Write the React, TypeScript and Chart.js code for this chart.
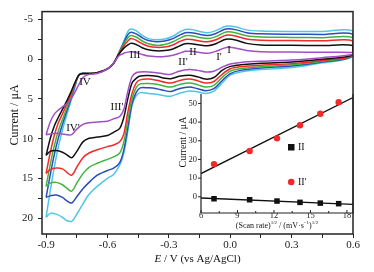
import { useEffect, useRef } from "react";
import { Chart, registerables } from "chart.js";

Chart.register(...registerables);

const FONT = '"Liberation Serif", "Times New Roman", serif';

// ---- main CV data -------------------------------------------------------
// anodic sweep potentials (V vs Ag/AgCl), left -> right
const E_ANODIC = [-0.90, -0.88, -0.86, -0.84, -0.82, -0.80, -0.78, -0.76, -0.74, -0.72, -0.69, -0.65, -0.60, -0.57, -0.545, -0.52, -0.50, -0.485, -0.46, -0.43, -0.40, -0.36, -0.32, -0.28, -0.25, -0.22, -0.19, -0.15, -0.11, -0.07, -0.03, -0.01, 0.03, 0.08, 0.15, 0.30, 0.45, 0.60];
// cathodic sweep potentials, right -> left
const E_CATHODIC = [0.60, 0.45, 0.30, 0.15, 0.05, 0.00, -0.04, -0.08, -0.12, -0.16, -0.20, -0.25, -0.29, -0.32, -0.36, -0.40, -0.44, -0.46, -0.48, -0.50, -0.52, -0.54, -0.57, -0.60, -0.65, -0.69, -0.72, -0.75, -0.775, -0.80, -0.82, -0.85, -0.88, -0.90];

// currents (µA) on the anodic sweep, one per scan rate
const ANODIC_PURPLE = [9.5, 7.9, 6.9, 6.4, 6.0, 5.6, 5.1, 4.2, 3.2, 2.3, 1.9, 1.8, 1.2, 0.5, -0.4, -0.75, -0.9, -0.95, -0.85, -0.6, -0.4, -0.33, -0.35, -0.5, -0.75, -1.0, -1.0, -0.85, -0.75, -1.0, -1.4, -1.5, -1.4, -1.1, -0.95, -0.9, -0.88, -0.86];
const ANODIC_BLACK = [12.1, 10.0, 8.4, 7.3, 6.3, 5.3, 4.2, 3.0, 2.0, 1.8, 1.8, 1.7, 1.2, 0.5, -0.6, -1.4, -1.8, -2.0, -1.85, -1.45, -1.2, -1.06, -1.1, -1.3, -1.65, -1.95, -1.95, -1.8, -1.7, -1.95, -2.45, -2.55, -2.4, -2.0, -1.8, -1.75, -1.72, -1.7];
const ANODIC_RED = [14.4, 11.8, 9.6, 8.0, 6.9, 5.7, 4.5, 3.1, 2.0, 1.8, 1.8, 1.7, 1.2, 0.5, -0.65, -1.7, -2.3, -2.6, -2.4, -1.95, -1.65, -1.5, -1.55, -1.8, -2.2, -2.5, -2.5, -2.3, -2.2, -2.45, -2.95, -3.05, -2.9, -2.55, -2.4, -2.35, -2.32, -2.3];
const ANODIC_GREEN = [16.0, 13.3, 10.9, 9.0, 7.6, 6.2, 4.8, 3.2, 2.0, 1.8, 1.8, 1.7, 1.2, 0.5, -0.7, -1.9, -2.7, -3.0, -2.8, -2.3, -1.95, -1.75, -1.85, -2.2, -2.6, -2.95, -2.95, -2.75, -2.6, -2.85, -3.35, -3.45, -3.3, -2.95, -2.8, -2.75, -2.72, -2.7];
const ANODIC_BLUE = [17.4, 14.6, 12.0, 9.9, 8.2, 6.6, 5.1, 3.4, 2.0, 1.8, 1.8, 1.7, 1.2, 0.5, -0.75, -2.1, -3.1, -3.4, -3.2, -2.7, -2.35, -2.2, -2.3, -2.6, -3.0, -3.35, -3.35, -3.15, -3.0, -3.25, -3.75, -3.85, -3.7, -3.35, -3.2, -3.15, -3.12, -3.1];
const ANODIC_CYAN = [19.9, 16.6, 13.6, 11.0, 8.9, 7.1, 5.4, 3.6, 1.9, 1.7, 1.8, 1.7, 1.2, 0.5, -0.8, -2.3, -3.5, -3.8, -3.6, -3.0, -2.6, -2.45, -2.55, -2.9, -3.4, -3.75, -3.75, -3.5, -3.35, -3.6, -4.1, -4.2, -4.05, -3.7, -3.55, -3.5, -3.5, -3.5];

// currents (µA) on the cathodic sweep
const CATHODIC_PURPLE = [-0.6, -0.2, 0.1, 0.25, 0.4, 0.6, 1.0, 1.5, 1.6, 1.4, 1.3, 1.5, 1.9, 1.85, 1.7, 1.6, 1.6, 1.7, 2.2, 4.0, 6.3, 7.2, 7.5, 7.8, 7.9, 8.0, 8.2, 8.8, 9.5, 9.5, 9.4, 9.3, 9.4, 9.5];
const CATHODIC_BLACK = [-0.55, 0.0, 0.35, 0.5, 0.7, 0.9, 1.4, 2.3, 2.5, 2.2, 2.0, 2.15, 2.45, 2.4, 2.15, 2.05, 2.1, 2.4, 3.0, 4.9, 7.3, 8.7, 9.2, 9.6, 9.8, 9.95, 10.4, 11.6, 12.4, 12.0, 11.7, 11.5, 11.6, 12.1];
const CATHODIC_RED = [-0.5, 0.15, 0.55, 0.75, 0.95, 1.2, 1.9, 2.8, 3.0, 2.7, 2.5, 2.7, 3.0, 2.9, 2.65, 2.5, 2.6, 3.0, 4.3, 6.6, 9.4, 10.4, 10.8, 11.0, 11.4, 11.8, 12.4, 13.6, 14.6, 14.2, 13.8, 13.7, 13.9, 14.4];
const CATHODIC_GREEN = [-0.5, 0.25, 0.7, 0.95, 1.2, 1.5, 2.3, 3.3, 3.5, 3.2, 3.0, 3.2, 3.5, 3.4, 3.15, 3.05, 3.1, 3.6, 5.0, 7.6, 10.4, 11.8, 12.3, 12.6, 13.1, 13.6, 14.4, 15.6, 16.6, 16.2, 15.8, 15.5, 15.6, 16.0];
const CATHODIC_BLUE = [-0.45, 0.35, 0.85, 1.1, 1.4, 1.8, 2.7, 3.7, 3.95, 3.7, 3.5, 3.7, 4.05, 3.95, 3.7, 3.6, 3.6, 4.2, 5.6, 8.5, 11.4, 13.0, 13.7, 14.0, 14.6, 15.5, 16.3, 17.3, 18.1, 17.8, 17.4, 17.1, 17.2, 17.4];
const CATHODIC_CYAN = [-0.4, 0.45, 1.05, 1.3, 1.6, 2.0, 3.0, 4.0, 4.3, 4.1, 4.0, 4.3, 4.65, 4.6, 4.4, 4.3, 4.2, 4.6, 5.8, 9.0, 11.8, 13.3, 14.5, 15.0, 16.0, 17.0, 18.2, 19.5, 20.4, 20.3, 19.9, 19.5, 19.4, 19.9];

const SERIES_COLORS = ["#a24fc6", "#111111", "#f42a2a", "#3fb43f", "#2a4cbc", "#4fc6e4"];
const ANODIC = [ANODIC_PURPLE, ANODIC_BLACK, ANODIC_RED, ANODIC_GREEN, ANODIC_BLUE, ANODIC_CYAN];
const CATHODIC = [CATHODIC_PURPLE, CATHODIC_BLACK, CATHODIC_RED, CATHODIC_GREEN, CATHODIC_BLUE, CATHODIC_CYAN];

const X_TICKS = [-0.9, -0.6, -0.3, 0.0, 0.3, 0.6];
const X_MINOR = [-0.75, -0.45, -0.15, 0.15, 0.45];
const Y_TICKS = [-5, 0, 5, 10, 15, 20];
const Y_MINOR = [-2.5, 2.5, 7.5, 12.5, 17.5];

const PEAK_LABELS = ["IV", "IV'", "III", "III'", "II", "II'", "I", "I'"];
const PEAK_LABEL_X = [85, 73, 135, 117, 193, 183, 229, 219];
const PEAK_LABEL_Y = [82, 128, 55, 107, 52.5, 62.5, 50, 57.5];

// ---- inset data ---------------------------------------------------------
const SQRT_SCAN_RATE = [7.07, 10.0, 12.25, 14.14, 15.81, 17.32];
const PEAK_II = [-1.06, -1.6, -2.3, -3.0, -3.4, -3.7];
const PEAK_II_PRIME = [17.5, 24.5, 31.3, 38.3, 44.5, 50.7];
const INSET_X_TICKS = [6, 9, 12, 15, 18];
const INSET_X_MINOR = [7.5, 10.5, 13.5, 16.5];
const INSET_Y_TICKS = [0, 10, 20, 30, 40, 50];
const INSET_X_MIN = 6;
const INSET_X_MAX = 18.5;

function loop(up: number[], down: number[]) {
  const pts = up.map((y, i) => ({ x: E_ANODIC[i], y }));
  down.forEach((y, i) => pts.push({ x: E_CATHODIC[i], y }));
  return pts;
}

function linFit(xs: number[], ys: number[]) {
  const n = xs.length;
  const mx = xs.reduce((a, b) => a + b, 0) / n;
  const my = ys.reduce((a, b) => a + b, 0) / n;
  let sxy = 0;
  let sxx = 0;
  for (let i = 0; i < n; i++) {
    sxy += (xs[i] - mx) * (ys[i] - my);
    sxx += (xs[i] - mx) * (xs[i] - mx);
  }
  const b = sxy / sxx;
  const a = my - b * mx;
  return [INSET_X_MIN, INSET_X_MAX].map((x) => ({ x, y: a + b * x }));
}

const isIn = (arr: number[], v: number) => arr.some((t) => Math.abs(t - v) < 1e-6);

const mainDecor = {
  id: "mainDecor",
  afterDraw(chart: any) {
    const { ctx, chartArea: a } = chart;
    ctx.save();
    ctx.strokeStyle = "#222";
    ctx.lineWidth = 1.5;
    ctx.strokeRect(a.left, a.top, a.right - a.left, a.bottom - a.top);

    ctx.fillStyle = "#111";
    ctx.textAlign = "center";
    ctx.textBaseline = "middle";
    ctx.font = `11px ${FONT}`;
    PEAK_LABELS.forEach((t, i) => ctx.fillText(t, PEAK_LABEL_X[i], PEAK_LABEL_Y[i]));

    // x title with italic E
    const cx = (a.left + a.right) / 2;
    ctx.font = `italic 11px ${FONT}`;
    const w1 = ctx.measureText("E").width;
    ctx.font = `11px ${FONT}`;
    const rest = " / V (vs Ag/AgCl)";
    const w2 = ctx.measureText(rest).width;
    ctx.textAlign = "left";
    const x0 = cx - (w1 + w2) / 2;
    ctx.font = `italic 11px ${FONT}`;
    ctx.fillText("E", x0, 259);
    ctx.font = `11px ${FONT}`;
    ctx.fillText(rest, x0 + w1, 259);

    // y title
    ctx.translate(15, 115);
    ctx.rotate(-Math.PI / 2);
    ctx.textAlign = "center";
    ctx.font = `12px ${FONT}`;
    ctx.fillText("Current / μA", 0, 0);
    ctx.restore();
  },
};

const insetDecor = {
  id: "insetDecor",
  afterDraw(chart: any) {
    const { ctx, chartArea: a, scales } = chart;
    ctx.save();
    ctx.strokeStyle = "#222";
    ctx.lineWidth = 1.2;
    ctx.beginPath();
    ctx.moveTo(a.left, a.top);
    ctx.lineTo(a.left, a.bottom);
    ctx.lineTo(a.right, a.bottom);
    ctx.lineTo(a.right, a.top);
    ctx.stroke();

    ctx.lineWidth = 1;
    ctx.beginPath();
    INSET_X_TICKS.forEach((v) => {
      const px = scales.x.getPixelForValue(v);
      ctx.moveTo(px, a.bottom);
      ctx.lineTo(px, a.bottom - 3);
    });
    INSET_X_MINOR.forEach((v) => {
      const px = scales.x.getPixelForValue(v);
      ctx.moveTo(px, a.bottom);
      ctx.lineTo(px, a.bottom - 2);
    });
    INSET_Y_TICKS.forEach((v) => {
      const py = scales.y.getPixelForValue(v);
      ctx.moveTo(a.left - 3, py);
      ctx.lineTo(a.left, py);
    });
    ctx.stroke();

    // legend
    ctx.fillStyle = "#111";
    ctx.fillRect(138, 59, 6.5, 6.5);
    ctx.fillStyle = "#f42a2a";
    ctx.beginPath();
    ctx.arc(141.2, 97, 3.3, 0, Math.PI * 2);
    ctx.fill();
    ctx.fillStyle = "#111";
    ctx.font = `10px ${FONT}`;
    ctx.textAlign = "left";
    ctx.textBaseline = "middle";
    ctx.fillText("II", 148, 62.5);
    ctx.fillText("II'", 148, 97);

    // x title with superscripts
    const segs: [string, boolean][] = [
      ["(Scan rate)", false],
      ["1/2", true],
      [" / (mV·s", false],
      ["−1", true],
      [")", false],
      ["1/2", true],
    ];
    const norm = `8px ${FONT}`;
    const sup = `5px ${FONT}`;
    let total = 0;
    segs.forEach(([t, s]) => {
      ctx.font = s ? sup : norm;
      total += ctx.measureText(t).width;
    });
    let x = (a.left + a.right) / 2 - total / 2;
    const yb = 142.5;
    ctx.textBaseline = "alphabetic";
    segs.forEach(([t, s]) => {
      ctx.font = s ? sup : norm;
      ctx.fillText(t, x, s ? yb - 3.5 : yb);
      x += ctx.measureText(t).width;
    });

    // y title
    ctx.translate(33, 57);
    ctx.rotate(-Math.PI / 2);
    ctx.textAlign = "center";
    ctx.textBaseline = "middle";
    ctx.font = `10px ${FONT}`;
    ctx.fillText("Current / μA", 0, 0);
    ctx.restore();
  },
};

export default function App() {
  const mainRef = useRef<HTMLCanvasElement>(null);
  const insetRef = useRef<HTMLCanvasElement>(null);

  useEffect(() => {
    const main = new Chart(mainRef.current as HTMLCanvasElement, {
      type: "line",
      data: {
        datasets: ANODIC.map((up, i) => ({
          data: loop(up, CATHODIC[i]),
          borderColor: SERIES_COLORS[i],
          backgroundColor: SERIES_COLORS[i],
          borderWidth: 1.5,
          pointRadius: 0,
          tension: 0.3,
          fill: false,
        })),
      },
      options: {
        responsive: false,
        animation: false,
        devicePixelRatio: 1,
        events: [],
        parsing: false as any,
        layout: { padding: { left: 0, top: 7, right: 21, bottom: 0 } },
        plugins: { legend: { display: false }, tooltip: { enabled: false } },
        scales: {
          x: {
            type: "linear",
            min: -0.92,
            max: 0.6,
            afterBuildTicks: (s: any) => {
              s.ticks = [...X_TICKS, ...X_MINOR].sort((p, q) => p - q).map((v) => ({ value: v }));
            },
            afterFit: (s: any) => {
              s.height = 38;
            },
            grid: { display: true, drawOnChartArea: false, drawTicks: true, tickLength: 4, color: "#222", tickColor: "#222" },
            border: { display: false },
            ticks: {
              autoSkip: false,
              maxRotation: 0,
              padding: 1.5,
              color: "#222",
              font: { family: FONT, size: 11, lineHeight: 1 },
              callback: (v: any) => (isIn(X_TICKS, Number(v)) ? Number(v).toFixed(1) : ""),
            },
          },
          y: {
            type: "linear",
            reverse: true,
            min: -6,
            max: 22,
            afterBuildTicks: (s: any) => {
              s.ticks = [...Y_TICKS, ...Y_MINOR].sort((p, q) => p - q).map((v) => ({ value: v }));
            },
            afterFit: (s: any) => {
              s.width = 42;
            },
            grid: { display: true, drawOnChartArea: false, drawTicks: true, tickLength: 4, color: "#222", tickColor: "#222" },
            border: { display: false },
            ticks: {
              autoSkip: false,
              padding: 5,
              color: "#222",
              font: { family: FONT, size: 11 },
              callback: (v: any) => (isIn(Y_TICKS, Number(v)) ? String(Number(v)) : ""),
            },
          },
        },
      },
      plugins: [mainDecor],
    } as any);

    const inset = new Chart(insetRef.current as HTMLCanvasElement, {
      type: "scatter",
      data: {
        datasets: [
          {
            data: SQRT_SCAN_RATE.map((x, i) => ({ x, y: PEAK_II[i] })),
            pointStyle: "rect",
            pointRadius: 3.9,
            backgroundColor: "#111",
            borderColor: "#111",
            borderWidth: 0,
            showLine: false,
          },
          {
            data: SQRT_SCAN_RATE.map((x, i) => ({ x, y: PEAK_II_PRIME[i] })),
            pointStyle: "circle",
            pointRadius: 3.2,
            backgroundColor: "#f42a2a",
            borderColor: "#f42a2a",
            borderWidth: 0,
            showLine: false,
          },
          {
            data: linFit(SQRT_SCAN_RATE, PEAK_II),
            showLine: true,
            borderColor: "#111",
            borderWidth: 1.3,
            pointRadius: 0,
          },
          {
            data: linFit(SQRT_SCAN_RATE, PEAK_II_PRIME),
            showLine: true,
            borderColor: "#111",
            borderWidth: 1.3,
            pointRadius: 0,
          },
        ],
      },
      options: {
        responsive: false,
        animation: false,
        devicePixelRatio: 1,
        events: [],
        layout: { padding: { left: 0, top: 8, right: 7, bottom: 0 } },
        plugins: { legend: { display: false }, tooltip: { enabled: false } },
        scales: {
          x: {
            type: "linear",
            min: INSET_X_MIN,
            max: INSET_X_MAX,
            afterBuildTicks: (s: any) => {
              s.ticks = INSET_X_TICKS.map((v) => ({ value: v }));
            },
            afterFit: (s: any) => {
              s.height = 22;
            },
            grid: { display: false, drawTicks: false },
            border: { display: false },
            ticks: {
              autoSkip: false,
              maxRotation: 0,
              padding: -1,
              color: "#222",
              font: { family: FONT, size: 8.5, lineHeight: 1 },
            },
          },
          y: {
            type: "linear",
            min: -8.7,
            max: 55,
            afterBuildTicks: (s: any) => {
              s.ticks = INSET_Y_TICKS.map((v) => ({ value: v }));
            },
            afterFit: (s: any) => {
              s.width = 51;
            },
            grid: { display: false, drawTicks: false },
            border: { display: false },
            ticks: {
              autoSkip: false,
              padding: 4,
              color: "#222",
              font: { family: FONT, size: 8.5 },
            },
          },
        },
      },
      plugins: [insetDecor],
    } as any);

    return () => {
      main.destroy();
      inset.destroy();
    };
  }, []);

  return (
    <div style={{ position: "fixed", left: 0, top: 0, width: 374, height: 272, background: "#fff" }}>
      <canvas
        ref={mainRef}
        width={374}
        height={272}
        style={{ position: "absolute", left: 0, top: 0, width: 374, height: 272 }}
      />
      <canvas
        ref={insetRef}
        width={210}
        height={150}
        style={{ position: "absolute", left: 150, top: 85, width: 210, height: 150 }}
      />
    </div>
  );
}
